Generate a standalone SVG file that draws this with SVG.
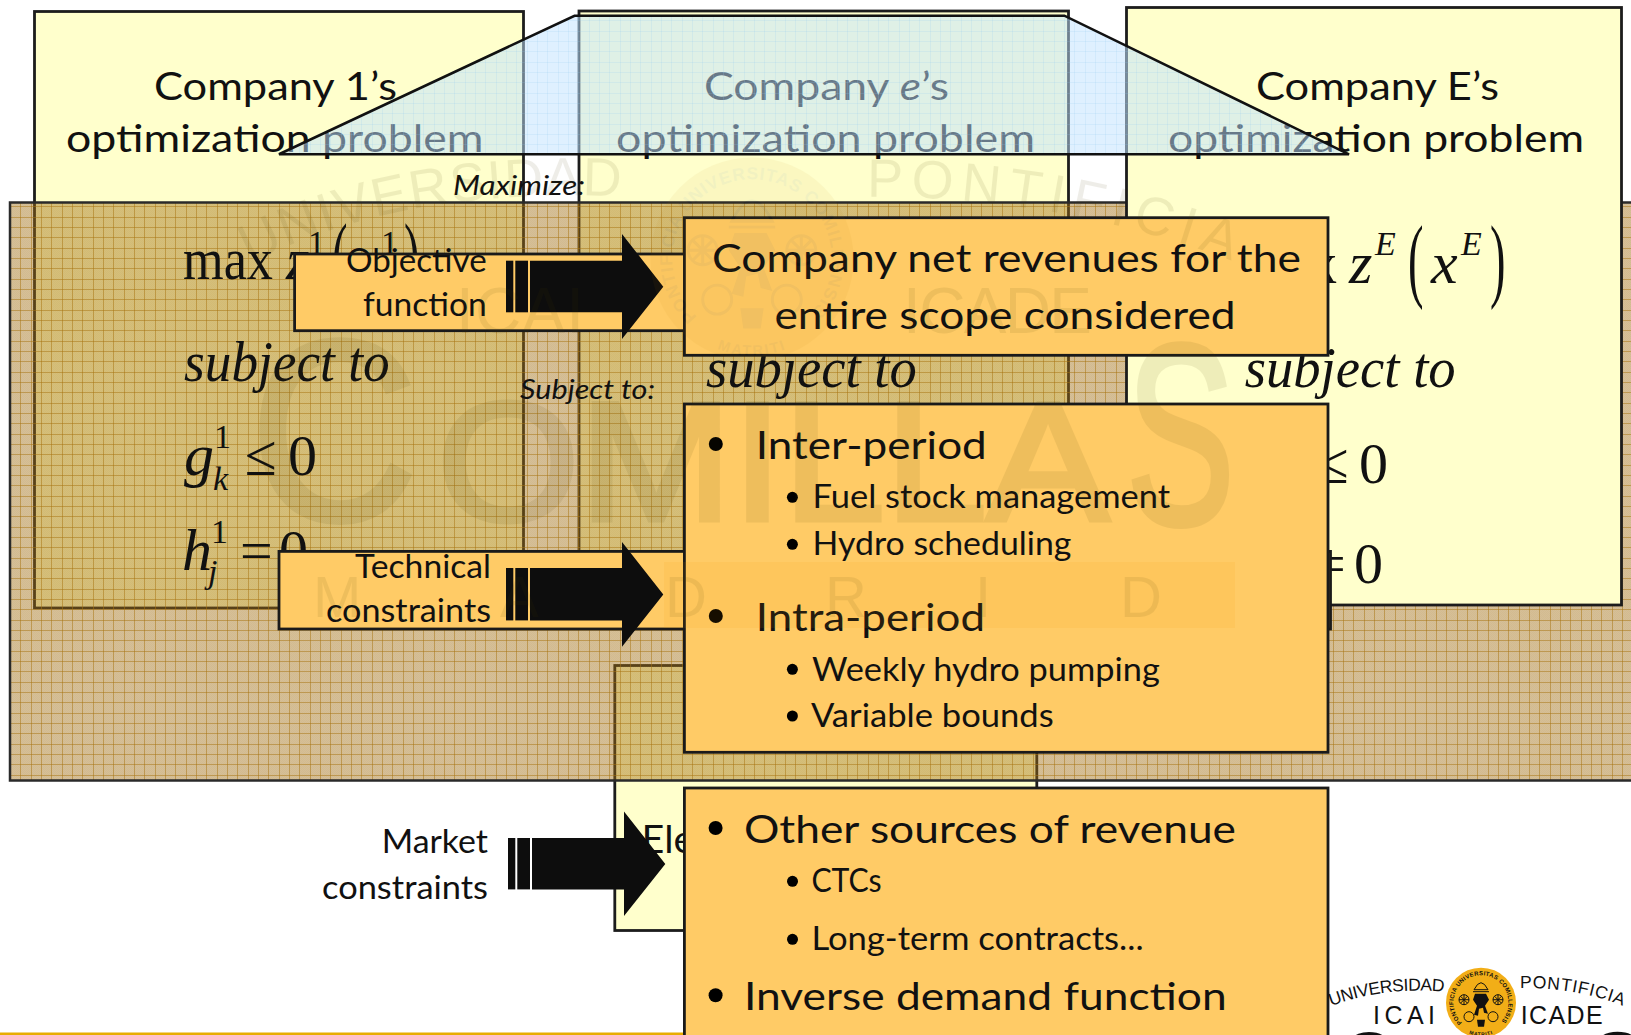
<svg xmlns="http://www.w3.org/2000/svg" width="1631" height="1035" viewBox="0 0 1631 1035">
<style>
text{fill:#111}
.c{font-family:Lato,"Liberation Sans",sans-serif}
.h{font-size:39.5px}
.m{font-size:32.5px}
.i{font-size:27px;font-style:italic}
.t{font-family:"Liberation Serif",serif;font-size:58px}
.tm{font-family:"Liberation Serif",serif;font-size:60px}
.ti{font-family:"Liberation Serif",serif;font-size:57px;font-style:italic}
.tv{font-family:"Liberation Serif",serif;font-size:60px;font-style:italic}
.p{font-family:"Liberation Serif",serif;font-size:93px}
.sup{font-family:"Liberation Serif",serif;font-size:34px}
.supi{font-family:"Liberation Serif",serif;font-size:34px;font-style:italic}
.box{fill:#FFFFCC;stroke:#1c1c1c;stroke-width:2.8}
.or{fill:#FFCB66;stroke:#1a1a1a;stroke-width:2.8}
.ar{fill:#0D0D0D}
.wm text{font-family:"Liberation Sans",sans-serif;fill:#4a3c00}
.wm .big{stroke:#4a3c00;stroke-width:5}
.lg text{font-family:"Liberation Sans",sans-serif;fill:#111}
</style>
<defs>
<pattern id="dith" patternUnits="userSpaceOnUse" width="2" height="2">
<rect width="2" height="2" fill="#A06E12" fill-opacity="0.44"/>
<rect width="1" height="1" fill="#A06E12" fill-opacity="0.06"/>
<rect x="1" y="1" width="1" height="1" fill="#A06E12" fill-opacity="0.06"/>
</pattern>
<pattern id="grid" patternUnits="userSpaceOnUse" width="31" height="31">
<path d="M0 .5H31M0 10.5H31M0 20.5H31M.5 0V31M10.5 0V31M20.5 0V31" fill="none" stroke="#A87410" stroke-opacity=".5" stroke-width="1"/>
</pattern>
<pattern id="grid2" patternUnits="userSpaceOnUse" width="31" height="31">
<path d="M0 .5H31M0 10.5H31M0 20.5H31M.5 0V31M10.5 0V31M20.5 0V31" fill="none" stroke="#8FC8F0" stroke-opacity=".18" stroke-width="1"/>
</pattern>
<path id="ringTop" d="M-19 19.9A27.5 27.5 0 1 1 19 19.9"/>
<path id="ringBot" d="M-12 31A33 33 0 0 0 12 31"/>
<g id="seal">
<circle r="35"/>
<text font-family="Liberation Sans,sans-serif" font-size="6" font-weight="bold" style="fill:#111"><textPath href="#ringTop" textLength="128" lengthAdjust="spacing">PONTIFICIA UNIVERSITAS COMILLENSIS</textPath></text>
<text font-family="Liberation Sans,sans-serif" font-size="5" font-weight="bold" style="fill:#111"><textPath href="#ringBot" textLength="24" lengthAdjust="spacing">MATRITI</textPath></text>
<g fill="none" stroke="#111" stroke-width="1">
<circle cx="-17" cy="-3" r="5"/><path d="M-22-3H-12M-17-8V2M-20.500-6.500L-13.500 .5M-20.500 .5L-13.500-6.500"/>
<circle cx="17" cy="-3" r="5"/><path d="M12-3H22M17-8V2M13.500-6.500L20.500 .5M13.500 .5L20.500-6.500"/>
<circle cx="-12" cy="14" r="5"/><circle cx="12" cy="14" r="5"/>
<path d="M-7-13Q0-27 7-13ZM-8-11H8"/>
</g>
<path fill="#111" d="M-6-9H5L8-3 4 3 7 11 3 10 2 5-2 6-3 13-7 12-4 3-8-3Z"/>
<path fill="#111" d="M-4 17H4L3 24H-3Z"/>
</g>
</defs>
<rect width="1631" height="1035" fill="#fff"/>
<g id="node-company-1">
<rect class="box" x="34.500" y="11.500" width="489" height="596.500"/>
<text class="c h" x="154" y="100" textLength="243" lengthAdjust="spacingAndGlyphs">Company 1’s</text>
<text class="c h" x="66" y="152" textLength="417.500" lengthAdjust="spacingAndGlyphs">optimization problem</text>
</g>
<g id="node-company-e">
<rect class="box" x="579" y="11" width="489.500" height="597"/>
<text class="c h" x="704" y="100" textLength="245" lengthAdjust="spacingAndGlyphs">Company <tspan font-style="italic">e</tspan>’s</text>
<text class="c h" x="616" y="152" textLength="419" lengthAdjust="spacingAndGlyphs">optimization problem</text>
</g>
<g id="node-market">
<rect class="box" x="614.800" y="665.500" width="422" height="265"/>
<text class="c h" x="641.500" y="853">Ele</text>
</g>
<g id="labels-top">
<text class="c i" x="453" y="195" textLength="132" lengthAdjust="spacingAndGlyphs">Maximize:</text>
</g>
<g id="panel">
<rect x="10" y="202.500" width="1640" height="578" fill="url(#dith)"/>
<rect x="10" y="202.500" width="1640" height="578" fill="url(#grid)"/>
<rect x="10" y="202.500" width="1640" height="578" fill="none" stroke="#2a2a2a" stroke-width="2.500"/>
</g>
<g id="node-company-E">
<rect class="box" x="1126.500" y="7.500" width="495" height="597.500"/>
<text class="c h" x="1256" y="100" textLength="243" lengthAdjust="spacingAndGlyphs">Company E’s</text>
<text class="c h" x="1168" y="152" textLength="416" lengthAdjust="spacingAndGlyphs">optimization problem</text>
<text class="tm" x="1247" y="283" textLength="90" lengthAdjust="spacingAndGlyphs">max</text>
<text class="tv" x="1349" y="283">z</text>
<text class="supi" x="1375" y="255">E</text>
<text class="p" transform="translate(1408 290) scale(.5 1)">(</text>
<text class="tv" x="1431" y="283">x</text>
<text class="supi" x="1461" y="255">E</text>
<text class="p" transform="translate(1490 290) scale(.5 1)">)</text>
<text class="ti" x="1244.700" y="386.700" textLength="211" lengthAdjust="spacingAndGlyphs">subject to</text>
<text class="t" x="1317" y="483.300">≤</text>
<text class="t" x="1359" y="483.300">0</text>
<text class="t" x="1313" y="582.700">=</text>
<text class="t" x="1354" y="582.700">0</text>
</g>
<g id="math-company-1">
<text class="tm" x="183" y="279" textLength="90" lengthAdjust="spacingAndGlyphs">max</text>
<text class="tv" x="286" y="279">z</text>
<text class="sup" x="308" y="253.500">1</text>
<text class="p" transform="translate(332 288) scale(.5 1)">(</text>
<text class="sup" x="381" y="253.500">1</text>
<text class="p" transform="translate(404 288) scale(.5 1)">)</text>
<text class="ti" x="184" y="381" textLength="205.700" lengthAdjust="spacingAndGlyphs">subject to</text>
<text class="tv" x="184" y="475">g</text>
<text class="sup" x="214" y="447.500">1</text>
<text class="supi" x="213" y="490">k</text>
<text class="t" x="245" y="475">≤</text>
<text class="t" x="288" y="475">0</text>
<text class="tv" x="182" y="570">h</text>
<text class="sup" x="211" y="542.700">1</text>
<text class="supi" x="208" y="583">j</text>
<text class="t" x="240" y="570">=</text>
<text class="t" x="279" y="570">0</text>
</g>
<g id="math-company-e">
<text class="ti" x="706" y="386.700" textLength="210.700" lengthAdjust="spacingAndGlyphs">subject to</text>
</g>
<g id="label-subject-to">
<text class="c i" x="520" y="399" textLength="135" lengthAdjust="spacingAndGlyphs">Subject to:</text>
</g>
<g id="trapezoid">
<polygon points="279,154.300 574.500,15.700 1064.400,15.700 1349,154.300" fill="#C0E2FF" fill-opacity=".5"/>
<polygon points="279,154.300 574.500,15.700 1064.400,15.700 1349,154.300" fill="url(#grid2)"/>
<polygon points="279,154.300 574.500,15.700 1064.400,15.700 1349,154.300" fill="none" stroke="#111" stroke-width="2.600"/>
</g>
<rect id="footer-line" x="0" y="1032.500" width="690" height="2.500" fill="#E8AC00"/>
<g id="node-objective">
<rect class="or" x="294.600" y="254" width="1005" height="76.700"/>
<text class="c m" x="346" y="271.700" textLength="140.700" lengthAdjust="spacingAndGlyphs">Objective</text>
<text class="c m" x="363" y="316" textLength="123.700" lengthAdjust="spacingAndGlyphs">function</text>
</g>
<g id="node-technical">
<rect class="or" x="279" y="551.400" width="1051.500" height="77.600"/>
<text class="c m" x="355" y="578" textLength="136" lengthAdjust="spacingAndGlyphs">Technical</text>
<text class="c m" x="326" y="622" textLength="165" lengthAdjust="spacingAndGlyphs">constraints</text>
</g>
<g id="node-market-label">
<text class="c m" x="381.700" y="853" textLength="106.300" lengthAdjust="spacingAndGlyphs">Market</text>
<text class="c m" x="322" y="898.500" textLength="166" lengthAdjust="spacingAndGlyphs">constraints</text>
</g>
<g id="connectors">
<g class="ar">
<rect x="506" y="260.700" width="7.300" height="51.600"/><rect x="515.300" y="260.700" width="12.700" height="51.600"/>
<polygon points="530,260.700 622,260.700 622,234 663.300,286.700 622,339 622,312.300 530,312.300"/>
<rect x="506" y="568" width="7.300" height="52.400"/><rect x="515.300" y="568" width="12.700" height="52.400"/>
<polygon points="530,568 622,568 622,542 663.300,594.500 622,646.700 622,620.400 530,620.400"/>
<rect x="508" y="838" width="7.300" height="51.400"/><rect x="517.300" y="838" width="12.700" height="51.400"/>
<polygon points="532,838 624,838 624,811.400 665.300,864 624,916 624,889.400 532,889.400"/>
</g>
</g>
<g id="node-revenues">
<rect class="or" x="684.400" y="217.700" width="643.600" height="137.600"/>
<text class="c h" x="712" y="271.700" textLength="589" lengthAdjust="spacingAndGlyphs">Company net revenues for the</text>
<text class="c h" x="774.400" y="329" textLength="461.200" lengthAdjust="spacingAndGlyphs">entire scope considered</text>
</g>
<g id="node-technical-list">
<rect class="or" x="684.400" y="404" width="643.600" height="348.300"/>
<circle cx="715.800" cy="444" r="7"/>
<text class="c h" x="755.800" y="458.700" textLength="231" lengthAdjust="spacingAndGlyphs">Inter-period</text>
<circle cx="792.400" cy="497.300" r="5.500"/>
<text class="c m" x="812.600" y="508.300" textLength="357.400" lengthAdjust="spacingAndGlyphs">Fuel stock management</text>
<circle cx="792.400" cy="544.300" r="5.500"/>
<text class="c m" x="812.600" y="555" textLength="258.800" lengthAdjust="spacingAndGlyphs">Hydro scheduling</text>
<circle cx="715.800" cy="616" r="7"/>
<text class="c h" x="755.800" y="630.700" textLength="229.200" lengthAdjust="spacingAndGlyphs">Intra-period</text>
<circle cx="792.400" cy="669.300" r="5.500"/>
<text class="c m" x="812" y="680.700" textLength="347.800" lengthAdjust="spacingAndGlyphs">Weekly hydro pumping</text>
<circle cx="792.400" cy="716" r="5.500"/>
<text class="c m" x="811" y="727.300" textLength="242.700" lengthAdjust="spacingAndGlyphs">Variable bounds</text>
</g>
<g id="node-market-list">
<rect class="or" x="684.400" y="788" width="643.600" height="260"/>
<circle cx="715.600" cy="828" r="7"/>
<text class="c h" x="744" y="842.700" textLength="492" lengthAdjust="spacingAndGlyphs">Other sources of revenue</text>
<circle cx="792.500" cy="881.300" r="5.500"/>
<text class="c m" x="811.400" y="892.300" textLength="70.300" lengthAdjust="spacingAndGlyphs">CTCs</text>
<circle cx="792.500" cy="939.300" r="5.500"/>
<text class="c m" x="811.400" y="950" textLength="332.200" lengthAdjust="spacingAndGlyphs">Long-term contracts...</text>
<circle cx="715.600" cy="995.300" r="7"/>
<text class="c h" x="744" y="1010.300" textLength="482.700" lengthAdjust="spacingAndGlyphs">Inverse demand function</text>
</g>
<g id="logo" class="lg">
<path id="arcU" d="M1331 1006Q1385 986 1446 992" fill="none"/>
<path id="arcP" d="M1520 988Q1575 987 1623 1006" fill="none"/>
<text font-size="17.500"><textPath href="#arcU" textLength="115" lengthAdjust="spacing">UNIVERSIDAD</textPath></text>
<text font-size="17.500"><textPath href="#arcP" textLength="105" lengthAdjust="spacing">PONTIFICIA</textPath></text>
<text x="1373" y="1024" font-size="25" textLength="62" lengthAdjust="spacing">ICAI</text>
<text x="1520.700" y="1024" font-size="25" textLength="82" lengthAdjust="spacing">ICADE</text>
<use href="#seal" x="1481" y="1002.700" fill="#F2AE17"/>
<text x="1340" y="1084" font-size="75">C</text>
<text x="1592" y="1084" font-size="75">S</text>
</g>
<g id="watermark" class="wm">
<rect x="664" y="562" width="571" height="66" fill="#F0A000" fill-opacity=".09"/>
<g opacity=".085">
<path id="wU" d="M250 264Q400 185 632 197" fill="none"/>
<path id="wP" d="M867 197Q1060 195 1240 264" fill="none"/>
<text font-size="54"><textPath href="#wU" textLength="382" lengthAdjust="spacing">UNIVERSIDAD</textPath></text>
<text font-size="54"><textPath href="#wP" textLength="372" lengthAdjust="spacing">PONTIFICIA</textPath></text>
<text x="456" y="333" font-size="64" textLength="128" lengthAdjust="spacing">ICAI</text>
<text x="903" y="333" font-size="64" textLength="189" lengthAdjust="spacing">ICADE</text>
<text class="big" x="250" y="520" font-size="258" textLength="168" lengthAdjust="spacingAndGlyphs">C</text>
<text class="big" x="437" y="520" font-size="168" textLength="672" lengthAdjust="spacingAndGlyphs">OMILLA</text>
<text class="big" x="1126" y="524" font-size="258" textLength="109" lengthAdjust="spacingAndGlyphs">S</text>
<text x="313" y="617" font-size="58">M</text>
<text x="500" y="617" font-size="58">A</text>
<text x="665" y="617" font-size="58">D</text>
<text x="825" y="617" font-size="58">R</text>
<text x="975" y="617" font-size="58">I</text>
<text x="1120" y="617" font-size="58">D</text>
</g>
<g transform="translate(752 259) scale(2.9)" opacity=".055"><use href="#seal" fill="#C08000"/></g>
</g>
</svg>
